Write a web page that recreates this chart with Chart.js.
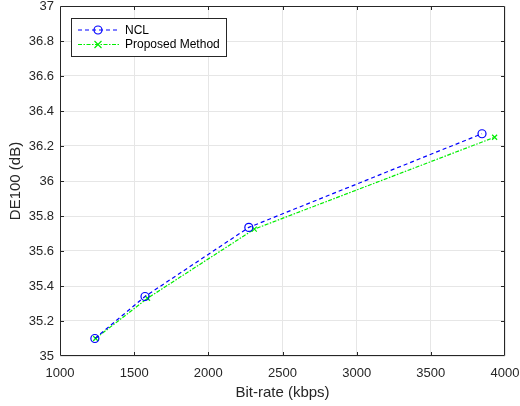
<!DOCTYPE html>
<html>
<head>
<meta charset="utf-8">
<script src="https://cdn.jsdelivr.net/npm/chart.js@4"></script>
<style>
  html, body { margin: 0; padding: 0; background: #fff; }
  #wrap { width: 520px; height: 406px; }
</style>
</head>
<body>
<div id="wrap"><canvas id="chart"></canvas></div>
<script>
const NCL_RATE = [1235, 1573, 2273, 3845];
const NCL_DE = [35.10, 35.34, 35.735, 36.27];
const PROP_RATE = [1240, 1590, 2310, 3930];
const PROP_DE = [35.10, 35.33, 35.725, 36.25];
const X_TICKS = [1000, 1500, 2000, 2500, 3000, 3500, 4000];
const Y_TICKS = [35, 35.2, 35.4, 35.6, 35.8, 36, 36.2, 36.4, 36.6, 36.8, 37];

const FONT = 'Liberation Sans, Arial, sans-serif';

const toXY = (xs, ys) => xs.map((x, i) => ({x: x, y: ys[i]}));

const data = {
  datasets: [{
    label: 'NCL',
    data: toXY(NCL_RATE, NCL_DE),
    borderColor: '#0000ff',
    borderWidth: 1.2,
    borderDash: [4, 3],
    pointStyle: 'circle',
    pointRadius: 4,
    pointBorderColor: '#0000ff',
    pointBorderWidth: 1.2,
    pointBackgroundColor: 'rgba(0,0,0,0)',
    fill: false
  }, {
    label: 'Proposed Method',
    data: toXY(PROP_RATE, PROP_DE),
    borderColor: '#00ee00',
    borderWidth: 1.2,
    borderDash: [4, 1.5, 1.5, 1.5],
    pointStyle: 'crossRot',
    pointRadius: 3.5,
    pointBorderColor: '#00ee00',
    pointBorderWidth: 1.2,
    fill: false
  }]
}

// box, inward ticks and the legend, matlab style
const matlabBox = {
  id: 'matlabBox',
  afterDraw: (chart) => {
    const {ctx} = chart
    const {top, bottom, left, right} = chart.chartArea
    const xs = chart.scales.x, ys = chart.scales.y
    ctx.save()
    ctx.strokeStyle = '#262626'
    ctx.lineWidth = 1
    ctx.setLineDash([])
    ctx.beginPath()
    ctx.rect(left + 0.5, top + 0.5, right - left - 1, bottom - top - 1)
    ctx.stroke()
    ctx.beginPath()
    // skip the end ticks, they sit on the box edges anyway
    X_TICKS.slice(1, -1).forEach(v => {
      const px = Math.round(xs.getPixelForValue(v)) + 0.5
      ctx.moveTo(px, bottom); ctx.lineTo(px, bottom - 4)
      ctx.moveTo(px, top); ctx.lineTo(px, top + 4)
    })
    Y_TICKS.slice(1, -1).forEach(v => {
      const py = Math.round(ys.getPixelForValue(v)) + 0.5
      ctx.moveTo(left, py); ctx.lineTo(left + 4, py)
      ctx.moveTo(right, py); ctx.lineTo(right - 4, py)
    })
    ctx.stroke()

    // legend
    const bx = 71.5, by = 18.5, bw = 155, bh = 38
    ctx.fillStyle = '#fff'
    ctx.fillRect(bx, by, bw, bh)
    ctx.strokeStyle = '#262626'
    ctx.strokeRect(bx, by, bw, bh)
    ctx.font = '12px ' + FONT
    ctx.textBaseline = 'middle'
    chart.data.datasets.forEach((ds, i) => {
      const y = by + 11.5 + i * 14.5
      ctx.strokeStyle = ds.borderColor
      ctx.lineWidth = ds.borderWidth
      ctx.setLineDash(ds.borderDash)
      ctx.beginPath()
      ctx.moveTo(78, y); ctx.lineTo(120, y)
      ctx.stroke()
      ctx.setLineDash([])
      ctx.beginPath()
      if (ds.pointStyle === 'circle') {
        ctx.arc(98, y, ds.pointRadius, 0, Math.PI * 2)
      } else {
        const r = ds.pointRadius
        ctx.moveTo(98 - r, y - r); ctx.lineTo(98 + r, y + r)
        ctx.moveTo(98 - r, y + r); ctx.lineTo(98 + r, y - r)
      }
      ctx.stroke()
      ctx.fillStyle = '#000'
      ctx.fillText(ds.label, 125, y + 0.5)
    })
    ctx.restore()
  }
}

const options = {
  responsive: false,
  animation: false,
  layout: {padding: {top: 6, right: 15, left: 0, bottom: 0}},
  plugins: {legend: {display: false}, tooltip: {enabled: false}},
  scales: {
    x: {
      type: 'linear',
      min: 1000, max: 4000,
      afterBuildTicks: s => { s.ticks = X_TICKS.map(v => ({value: v})) },
      afterFit: s => { s.height = 50; s.paddingLeft = 0; s.paddingRight = 0 },
      grid: {color: '#e6e6e6', drawTicks: false},
      border: {display: false},
      ticks: {color: '#262626', font: {family: FONT, size: 13}, padding: 10, maxRotation: 0,
        callback: v => String(v)},
      title: {display: true, text: 'Bit-rate (kbps)', color: '#262626',
        font: {family: FONT, size: 15}, padding: {top: 0, bottom: 4}}
    },
    y: {
      type: 'linear',
      min: 35, max: 37,
      afterBuildTicks: s => { s.ticks = Y_TICKS.map(v => ({value: v})) },
      afterFit: s => { s.width = 60; s.paddingTop = 0; s.paddingBottom = 0 },
      grid: {color: '#e6e6e6', drawTicks: false},
      border: {display: false},
      ticks: {color: '#262626', font: {family: FONT, size: 13}, padding: 6,
        callback: v => String(Math.round(v * 10) / 10)},
      title: {display: true, text: 'DE100 (dB)', color: '#262626',
        font: {family: FONT, size: 15}, padding: {top: 7, bottom: 0}}
    }
  }
}

const $canvas = document.getElementById('chart')
$canvas.width = 520
$canvas.height = 406
const chart = new Chart($canvas, {type: 'line', data, options, plugins: [matlabBox]})
</script>
</body>
</html>
